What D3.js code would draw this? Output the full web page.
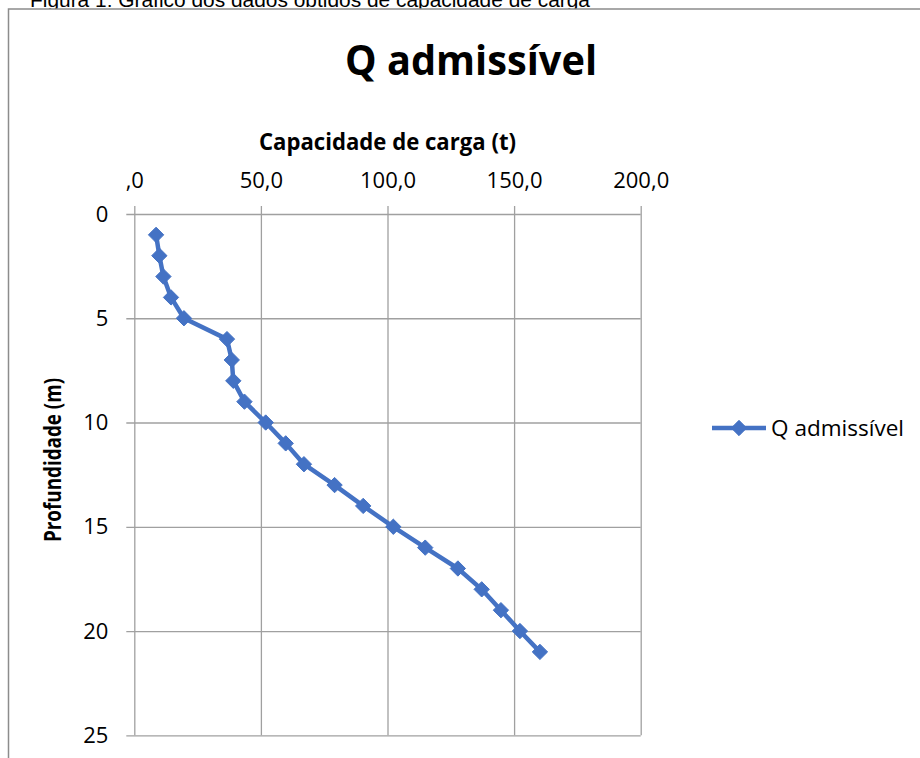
<!DOCTYPE html>
<html>
<head>
<meta charset="utf-8">
<script src="https://cdn.jsdelivr.net/npm/d3@7"></script>
<style>
  body { margin: 0; background: #fff; }
  svg { display: block; }
</style>
</head>
<body>
<script>
var W = 920, H = 758;
var lineColor = '#4472C4';
var gridColor = '#a0a0a0';

// profundidade (m) and Q admissivel (t)
var depth = [1, 2, 3, 4, 5, 6, 7, 8, 9, 10, 11, 12, 13, 14, 15, 16, 17, 18, 19, 20, 21];
var qAdm = [8.6, 9.9, 11.5, 14.5, 19.6, 36.6, 38.5, 39.1, 43.5, 51.9, 59.8, 67.0,
            79.1, 90.4, 102.3, 114.9, 127.8, 137.2, 144.8, 152.3, 160.2];

var xTicks = [0, 50, 100, 150, 200];
var xTickLabels = [',0', '50,0', '100,0', '150,0', '200,0'];
var yTicks = [0, 5, 10, 15, 20, 25];

var points = depth.map(function(d, i) { return {depth: d, q: qAdm[i]}; });

var svg = d3.select('body').append('svg')
    .attr('width', W)
    .attr('height', H);

// figure caption, cut by the top of the page
svg.append('text')
    .attr('x', 30)
    .attr('y', 7)
    .attr('textLength', 560)
    .attr('lengthAdjust', 'spacingAndGlyphs')
    .style('font-family', 'Liberation Sans, Arial, sans-serif')
    .style('font-size', '20px')
    .style('fill', '#000')
    .text('Figura 1: Gráfico dos dados obtidos de capacidade de carga');

// chart border (runs off the right and bottom)
svg.append('rect')
    .attr('x', 8.5)
    .attr('y', 9)
    .attr('width', 960)
    .attr('height', 800)
    .style('fill', '#fff')
    .style('stroke', '#8c8c8c')
    .style('stroke-width', 1.5);

var x = d3.scaleLinear().domain([0, 200]).range([134.3, 640.7]);
var y = d3.scaleLinear().domain([0, 25]).range([214, 735.3]);
var plotH = y(25) - y(0);
var plotW = x(200) - x(0);

// vertical gridlines + tick marks above the top axis
var xGrid = svg.append('g')
    .attr('transform', 'translate(0,' + (y(0) - 8) + ')')
    .call(d3.axisBottom(x).tickValues(xTicks).tickSize(plotH + 8).tickFormat(''));
xGrid.select('.domain').remove();
xGrid.selectAll('line').style('stroke', gridColor).style('stroke-width', 1.3);

// horizontal gridlines + tick marks left of the axis
var yGrid = svg.append('g')
    .attr('transform', 'translate(' + (x(0) - 8) + ',0)')
    .call(d3.axisRight(y).tickValues(yTicks).tickSize(plotW + 8).tickFormat(''));
yGrid.select('.domain').remove();
yGrid.selectAll('line').style('stroke', gridColor).style('stroke-width', 1.3);

// tick labels
var xAxis = svg.append('g')
    .attr('transform', 'translate(0,' + y(0) + ')')
    .call(d3.axisTop(x).tickValues(xTicks).tickSize(0).tickPadding(26)
      .tickFormat(function(d, i) { return xTickLabels[i]; }));
xAxis.select('.domain').remove();

var yAxis = svg.append('g')
    .attr('transform', 'translate(' + x(0) + ',0)')
    .call(d3.axisLeft(y).tickValues(yTicks).tickSize(0).tickPadding(26));
yAxis.select('.domain').remove();

svg.selectAll('.tick text')
    .style('font-family', 'Open Sans, sans-serif')
    .style('font-size', '22px')
    .style('fill', '#000');

// titles
svg.append('text')
    .attr('x', 471)
    .attr('y', 75)
    .attr('text-anchor', 'middle')
    .attr('textLength', 252)
    .attr('lengthAdjust', 'spacingAndGlyphs')
    .style('font-family', 'Open Sans, sans-serif')
    .style('font-weight', 'bold')
    .style('font-size', '41px')
    .text('Q admissível');

svg.append('text')
    .attr('x', (x(0) + x(200)) / 2)
    .attr('y', 150)
    .attr('text-anchor', 'middle')
    .attr('textLength', 257)
    .attr('lengthAdjust', 'spacingAndGlyphs')
    .style('font-family', 'Open Sans, sans-serif')
    .style('font-weight', 'bold')
    .style('font-size', '23px')
    .text('Capacidade de carga (t)');

svg.append('text')
    .attr('transform', 'translate(61,460) rotate(-90)')
    .attr('text-anchor', 'middle')
    .attr('textLength', 164)
    .attr('lengthAdjust', 'spacingAndGlyphs')
    .style('font-family', 'Open Sans, sans-serif')
    .style('font-weight', 'bold')
    .style('font-size', '23px')
    .text('Profundidade (m)');

// series
var line = d3.line()
    .x(function(d) { return x(d.q); })
    .y(function(d) { return y(d.depth); });

svg.append('path')
    .datum(points)
    .attr('d', line)
    .style('fill', 'none')
    .style('stroke', lineColor)
    .style('stroke-width', 4.5)
    .style('stroke-linejoin', 'round');

var diamond = d3.symbol().type(d3.symbolDiamond2).size(150);

svg.selectAll('.marker')
    .data(points)
    .enter().append('path')
    .attr('class', 'marker')
    .attr('d', diamond)
    .attr('transform', function(d) {
        return 'translate(' + x(d.q) + ',' + y(d.depth) + ')';
    })
    .style('fill', lineColor)
    .style('stroke', lineColor)
    .style('stroke-width', 1);

// legend
var legend = svg.append('g')
    .attr('transform', 'translate(712,428)');

legend.append('line')
    .attr('x1', 0)
    .attr('x2', 54)
    .style('stroke', lineColor)
    .style('stroke-width', 4.5);

legend.append('path')
    .attr('d', diamond)
    .attr('transform', 'translate(27,0)')
    .style('fill', lineColor)
    .style('stroke', lineColor);

legend.append('text')
    .attr('x', 59)
    .attr('y', 8)
    .attr('textLength', 133)
    .attr('lengthAdjust', 'spacingAndGlyphs')
    .style('font-family', 'Open Sans, sans-serif')
    .style('font-size', '22px')
    .text('Q admissível');
</script>
</body>
</html>
